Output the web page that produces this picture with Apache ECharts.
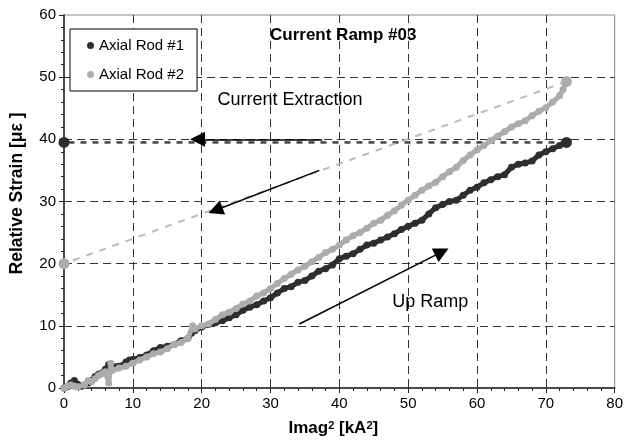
<!DOCTYPE html>
<html>
<head>
<meta charset="utf-8">
<script src="https://cdn.jsdelivr.net/npm/echarts@6/dist/echarts.min.js"></script>
<style>
  html, body { margin: 0; padding: 0; background: #fff; }
  #chart { width: 626px; height: 447px; }
</style>
</head>
<body>
<div id="chart"></div>
<script>
// Axial Rod #1 (dark), up ramp
const rod1 = [
  [0,0],[0.5,0.2],[1,0.8],[1.5,1.2],[2,0.6],[2.5,0.3],[3,0.5],[3.5,0.8],[4,1.2],[4.5,1.8],
  [5,2.2],[5.5,2.4],[6,3.0],[6.5,3.8],[7,3.5],[7.5,3.4],[8,3.5],[8.5,3.6],[9,4.2],[9.5,4.5],
  [10,4.6],[11,4.9],[12,5.3],[13,6.0],[14,6.5],[15,6.7],[16,7.0],[17,7.6],[18,8.0],[18.5,8.8],
  [19,9.2],[20,9.8],[21,10.2],[22,10.5],[23,10.8],[24,11.3],[25,11.8],[26,12.5],[27,13.0],[28,13.4],
  [29,14.0],[30,14.5],[31,15.3],[32,16.0],[33,16.3],[34,17.0],[35,17.3],[36,18.0],[37,18.8],[38,19.2],
  [39,19.8],[40,20.8],[41,21.2],[42,21.6],[43,22.3],[44,23.0],[45,23.3],[46,23.8],[47,24.3],[48,24.8],
  [49,25.5],[50,26.0],[51,26.5],[52,27.0],[53,28.0],[54,29.0],[55,29.5],[56,30.0],[57,30.2],[58,31.0],
  [59,31.8],[60,32.3],[61,33.0],[62,33.5],[63,34.0],[64,34.3],[65,35.5],[66,36.0],[67,36.2],[68,36.5],
  [69,37.5],[70,38.0],[71,38.5],[72,39.0],[73,39.5]
];
// Axial Rod #2 (light), up ramp
const rod2 = [
  [0,0],[0.5,0.3],[1,0.5],[1.5,0.3],[2,0.2],[3,0.5],[3.5,1.2],[4,1.0],[4.5,1.5],[5,2.0],
  [5.5,2.3],[6,2.6],[6.5,0.8],[6.8,4.0],[7,2.8],[8,3.2],[9,3.5],[10,4.0],[11,4.5],[12,5.0],
  [13,5.5],[14,5.8],[15,6.3],[16,7.0],[17,7.3],[18,8.0],[18.7,10.0],[19,9.5],[20,10.0],[21,10.3],
  [22,11.0],[23,11.8],[24,12.2],[25,12.8],[26,13.5],[27,14.0],[28,14.8],[29,15.3],[30,16.0],[31,16.8],
  [32,17.6],[33,18.3],[34,19.0],[35,19.6],[36,20.3],[37,21.0],[38,21.8],[39,22.3],[40,23.0],[41,23.8],
  [42,24.5],[43,25.0],[44,25.7],[45,26.5],[46,27.0],[47,27.8],[48,28.5],[49,29.4],[50,30.2],[51,31.0],
  [52,31.8],[53,32.5],[54,33.1],[55,34.0],[56,34.8],[57,35.5],[58,36.6],[59,37.5],[60,38.3],[61,39.0],
  [62,39.8],[63,40.5],[64,41.2],[65,42.0],[66,42.5],[67,43.0],[68,43.8],[69,44.5],[70,45.1],[71,46.0],
  [72,47.0],[72.5,48.0],[73,49.3]
];
// current extraction (dashed return paths)
const rod1Down = [[73,39.5],[0,39.5]];
const rod2Down = [[73,49.3],[0,20]];

// annotation arrows [from, to]
const arrows = [
  [[37.5,40],[19.4,40]],
  [[37.1,35],[22.0,28.6]],
  [[34.2,10.3],[54.9,21.9]]
];
const notes = [
  {text: 'Current Extraction', at: [22.3,46.1]},
  {text: 'Up Ramp', at: [47.7,13.6]}
];

const dark = '#2e2e2e';
const light = '#acacac';
const font = 'Liberation Sans, Arial, sans-serif';

const myChart = echarts.init(document.getElementById('chart'));

const axisCommon = {
  type: 'value',
  interval: 10,
  axisLine: {show: true, onZero: false, lineStyle: {color: '#222', width: 1.5}},
  axisTick: {show: true, inside: false, length: 5, lineStyle: {color: '#222'}},
  minorTick: {show: true, splitNumber: 5, length: 3, lineStyle: {color: '#222'}},
  axisLabel: {color: '#000', fontSize: 15, fontFamily: font},
  splitLine: {show: true, showMinLine: false, showMaxLine: false,
    lineStyle: {color: '#333', width: 1, type: [8, 5]}}
};

myChart.setOption({
  animation: false,
  title: {
    text: 'Current Ramp #03',
    left: 265, top: 22,
    textStyle: {fontSize: 17, fontWeight: 'bold', color: '#000', fontFamily: font}
  },
  legend: {
    data: ['Axial Rod #1', 'Axial Rod #2'],
    orient: 'vertical',
    left: 70, top: 29,
    backgroundColor: '#fff',
    borderColor: '#000', borderWidth: 1, borderRadius: 0,
    padding: [9, 13, 9, 17],
    itemGap: 14,
    itemWidth: 7, itemHeight: 7,
    icon: 'circle',
    textStyle: {fontSize: 15, color: '#000', fontFamily: font}
  },
  grid: {left: 64, right: 10, top: 15, bottom: 59, show: true, borderColor: '#888', borderWidth: 1},
  xAxis: Object.assign({}, axisCommon, {
    min: 0, max: 80,
    name: '{a|Imag}{s|2}{a| [kA}{s|2}{a|]}',
    nameLocation: 'middle', nameGap: 32,
    nameTextStyle: {padding: [0, 12, 0, 0],
      rich: {a: {fontSize: 17, fontWeight: 'bold', color: '#000', fontFamily: font},
             s: {fontSize: 11, fontWeight: 'bold', color: '#000', fontFamily: font, verticalAlign: 'top'}}}
  }),
  yAxis: Object.assign({}, axisCommon, {
    min: 0, max: 60,
    name: 'Relative Strain [με ]',
    nameLocation: 'middle', nameGap: 38,
    nameTextStyle: {fontSize: 17.5, fontWeight: 'bold', color: '#000', fontFamily: font, padding: [0, 0, 0, 16]}
  }),
  series: [
    {
      name: 'Axial Rod #1', type: 'line', data: rod1,
      color: dark, symbol: 'circle', symbolSize: 7, showAllSymbol: true,
      lineStyle: {width: 5, color: dark}, z: 3
    },
    {
      name: 'Axial Rod #2', type: 'line', data: rod2,
      color: light, symbol: 'circle', symbolSize: 7, showAllSymbol: true,
      lineStyle: {width: 5, color: light}, z: 4
    },
    {
      name: 'rod1 down', type: 'line', data: rod1Down,
      color: dark, symbol: 'circle', symbolSize: 11,
      lineStyle: {width: 2.5, color: '#444', type: [6, 6]}, z: 2
    },
    {
      name: 'rod2 down', type: 'line', data: rod2Down,
      color: light, symbol: 'circle', symbolSize: 11,
      lineStyle: {width: 2, color: '#bbb', type: [7, 7]}, z: 2
    },
    {
      name: 'arrows', type: 'lines', coordinateSystem: 'cartesian2d',
      data: arrows.map(a => ({coords: a})),
      symbol: ['none', 'triangle'], symbolSize: [13, 15],
      lineStyle: {color: '#000', width: 1.5, opacity: 1}, z: 6
    }
  ]
});

myChart.setOption({
  graphic: notes.map(n => {
    const p = myChart.convertToPixel({gridIndex: 0}, n.at);
    return {
      type: 'text', left: p[0], top: p[1] - 10, z: 10,
      style: {text: n.text, fontSize: 18, fill: '#000', fontFamily: font}
    };
  })
});
</script>
</body>
</html>
